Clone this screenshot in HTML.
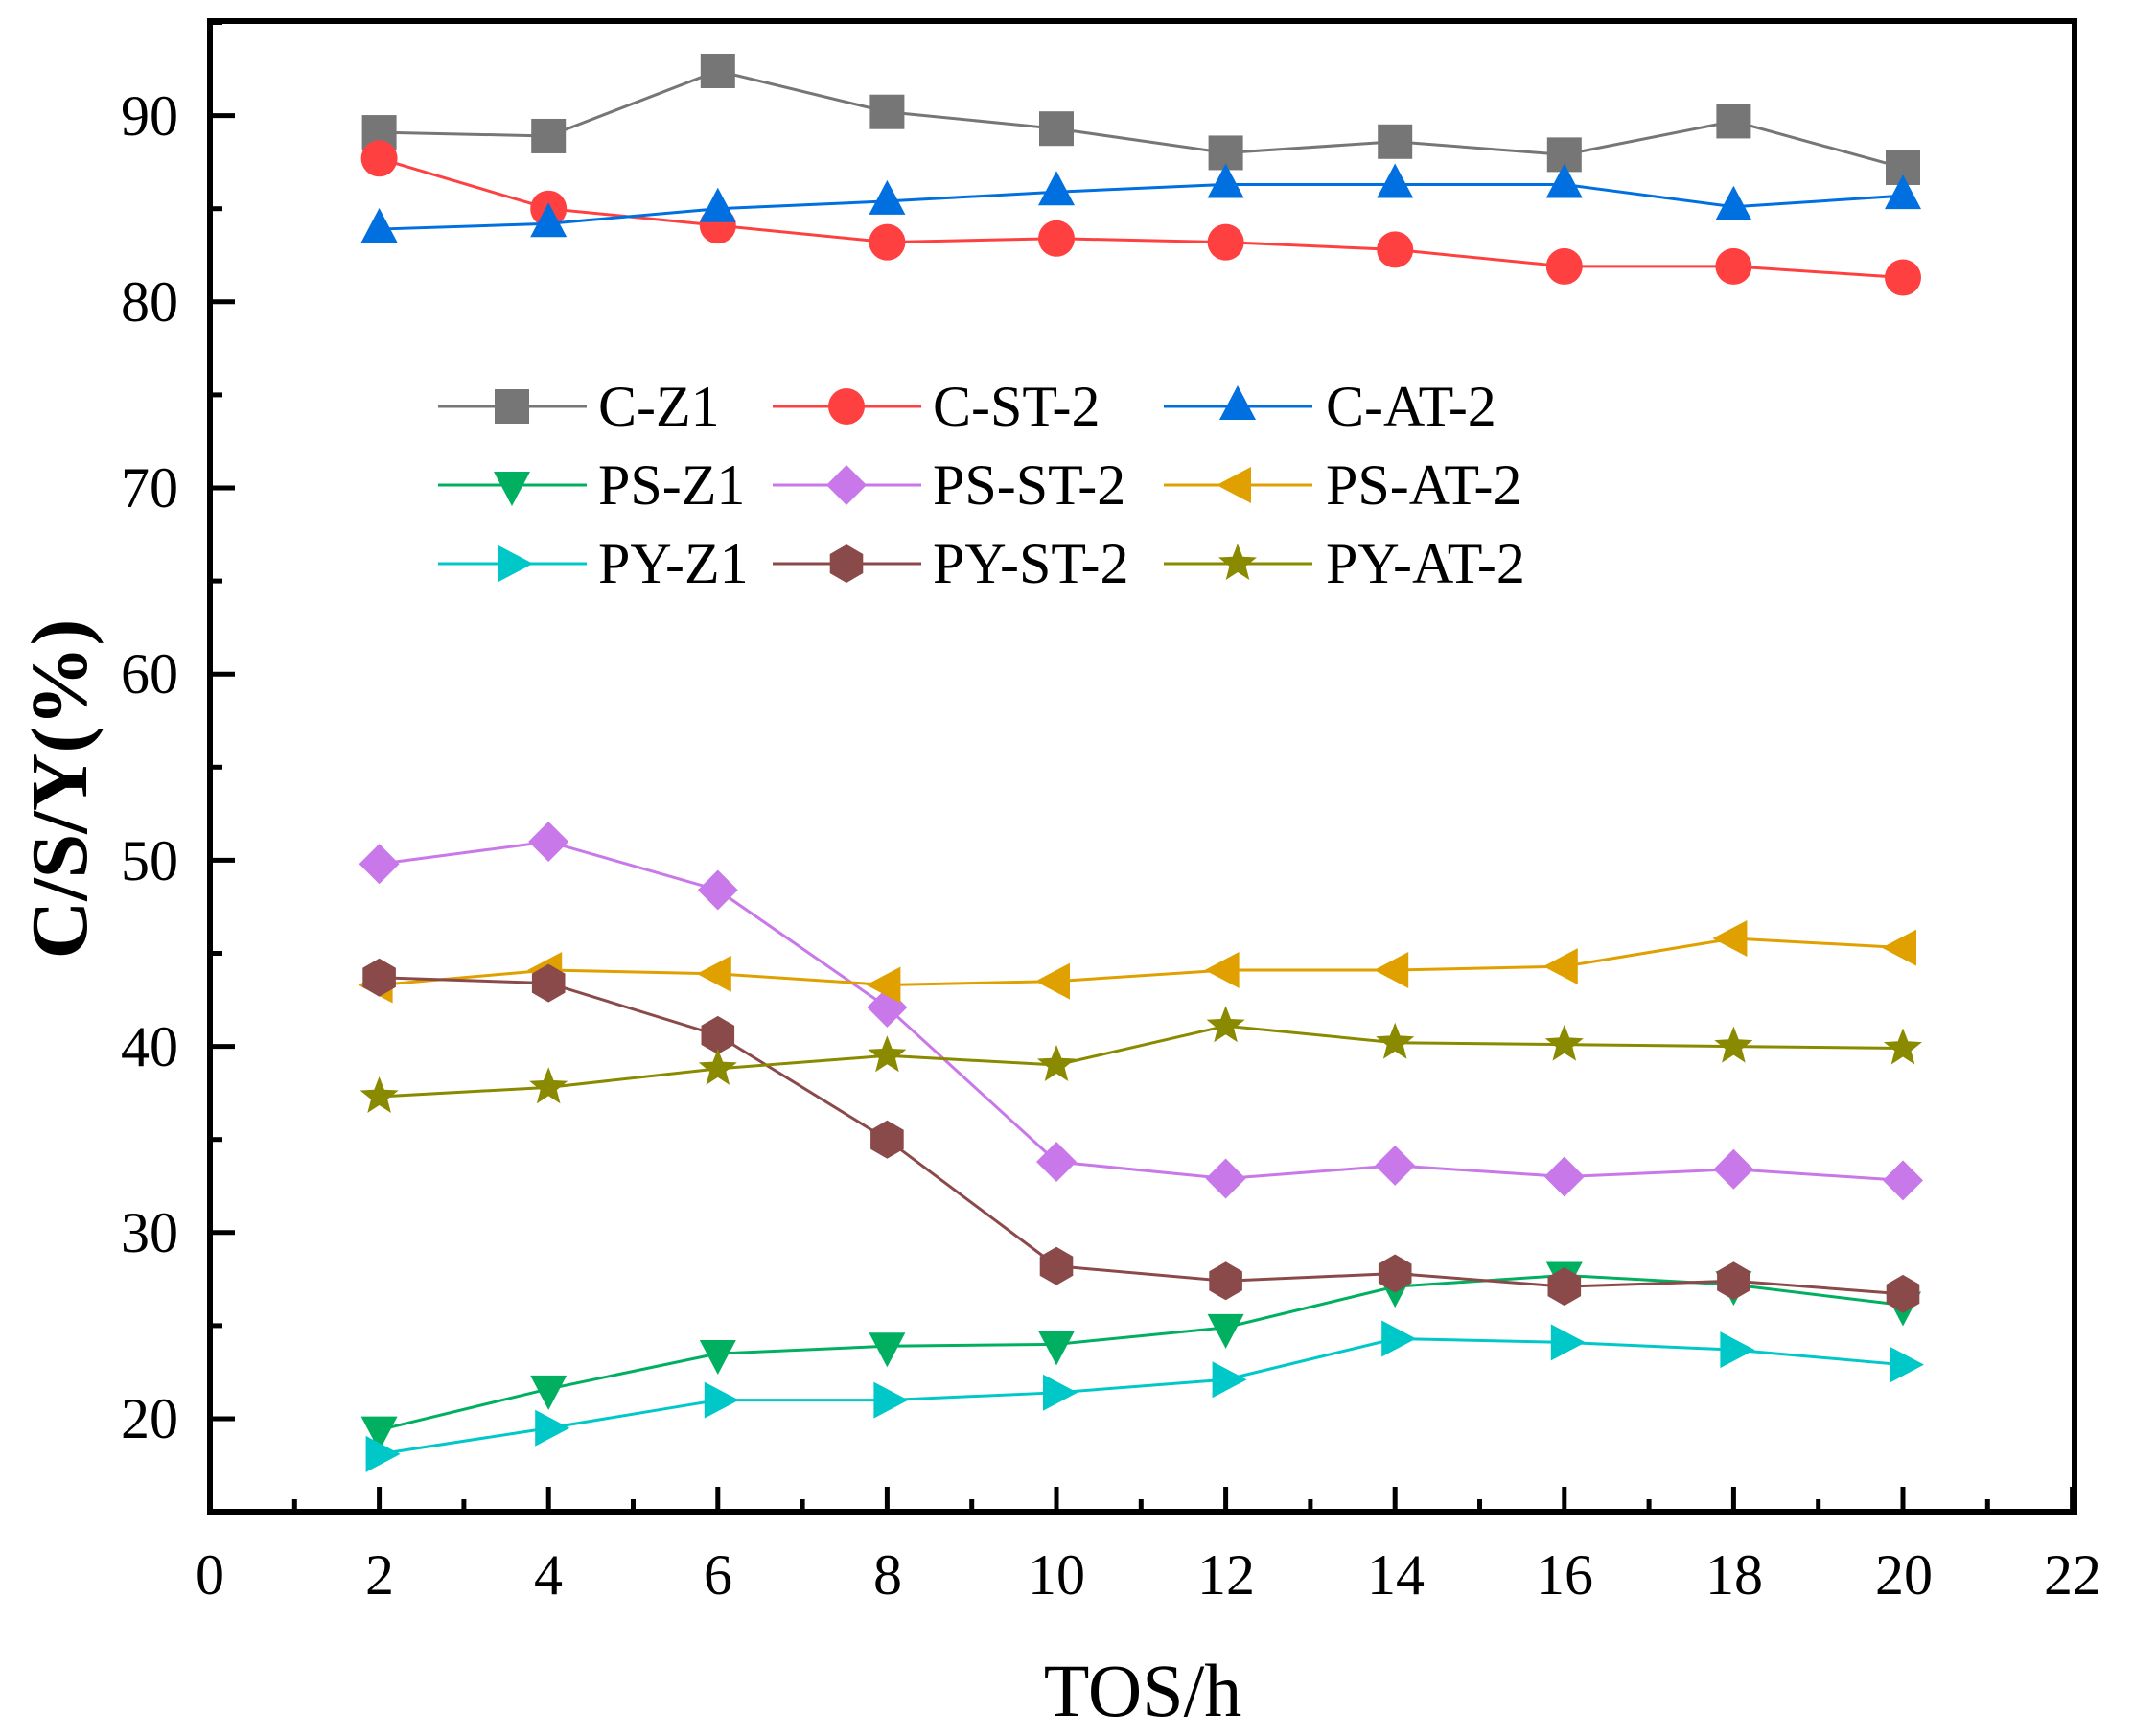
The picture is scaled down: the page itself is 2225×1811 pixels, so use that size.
<!DOCTYPE html>
<html><head><meta charset="utf-8"><style>
html,body{margin:0;padding:0;background:#fff;}
svg{display:block;}
text{font-family:"Liberation Serif",serif;fill:#000;}
</style></head><body>
<svg id="s" width="2225" height="1811" viewBox="0 0 2225 1811" xmlns="http://www.w3.org/2000/svg">
<rect width="2225" height="1811" fill="#fff"/>
<g id="plot"></g>
<g id="axes"></g>
<g font-size="60" text-anchor="end">
<text x="186" y="1500">20</text>
<text x="186" y="1306">30</text>
<text x="186" y="1112">40</text>
<text x="186" y="918">50</text>
<text x="186" y="723">60</text>
<text x="186" y="529">70</text>
<text x="186" y="335">80</text>
<text x="186" y="141">90</text>
</g>
<g font-size="60" text-anchor="middle">
<text x="219" y="1663">0</text>
<text x="396" y="1663">2</text>
<text x="572" y="1663">4</text>
<text x="749" y="1663">6</text>
<text x="926" y="1663">8</text>
<text x="1102" y="1663">10</text>
<text x="1279" y="1663">12</text>
<text x="1456" y="1663">14</text>
<text x="1632" y="1663">16</text>
<text x="1809" y="1663">18</text>
<text x="1986" y="1663">20</text>
<text x="2162" y="1663">22</text>
</g>
<text x="1192" y="1790" font-size="78" text-anchor="middle">TOS/h</text>
<text transform="translate(90,823) rotate(-90)" font-size="84" font-weight="bold" text-anchor="middle">C/S/Y(%)</text>
<g id="leg"></g>
<g font-size="60">
<text x="624" y="444">C-Z1</text>
<text x="973" y="444">C-ST-2</text>
<text x="1383" y="444">C-AT-2</text>
<text x="624" y="526">PS-Z1</text>
<text x="973" y="526">PS-ST-2</text>
<text x="1383" y="526">PS-AT-2</text>
<text x="624" y="608">PY-Z1</text>
<text x="973" y="608">PY-ST-2</text>
<text x="1383" y="608">PY-AT-2</text>
</g>
</svg>
<script>
const NS="http://www.w3.org/2000/svg";
const X=v=>219+v*88.3, Y=v=>1480-(v-20)*19.42;
function el(p,t,a){const e=document.createElementNS(NS,t);for(const k in a)e.setAttribute(k,a[k]);p.appendChild(e);return e;}
function poly(n,r,rot,cx,cy){let p=[];for(let i=0;i<n;i++){const a=rot+i*2*Math.PI/n;p.push((cx+r*Math.cos(a)).toFixed(1)+","+(cy+r*Math.sin(a)).toFixed(1));}return p.join(" ");}
function marker(g,shape,cx,cy,c){
 const s=18;
 switch(shape){
 case"sq":el(g,"rect",{x:cx-s,y:cy-s,width:2*s,height:2*s,fill:c});break;
 case"ci":el(g,"circle",{cx,cy,r:19,fill:c});break;
 case"up":el(g,"polygon",{points:`${cx},${cy-22} ${cx+19},${cy+14} ${cx-19},${cy+14}`,fill:c});break;
 case"dn":el(g,"polygon",{points:`${cx},${cy+22} ${cx+19},${cy-14} ${cx-19},${cy-14}`,fill:c});break;
 case"lf":el(g,"polygon",{points:`${cx-22},${cy} ${cx+14},${cy-19} ${cx+14},${cy+19}`,fill:c});break;
 case"rt":el(g,"polygon",{points:`${cx+22},${cy} ${cx-14},${cy-19} ${cx-14},${cy+19}`,fill:c});break;
 case"di":el(g,"polygon",{points:`${cx},${cy-21} ${cx+21},${cy} ${cx},${cy+21} ${cx-21},${cy}`,fill:c});break;
 case"hx":el(g,"polygon",{points:poly(6,20,Math.PI/6,cx,cy),fill:c});break;
 case"st":{let p=[];for(let i=0;i<10;i++){const r=i%2?9:21,a=-Math.PI/2+i*Math.PI/5;p.push((cx+r*Math.cos(a)).toFixed(1)+","+(cy+r*Math.sin(a)).toFixed(1));}el(g,"polygon",{points:p.join(" "),fill:c});}
 }
}
const S=[
["#767676","sq",[89.1,88.9,92.4,90.2,89.3,88.0,88.6,87.9,89.7,87.2]],
["#ff4040","ci",[87.7,85.0,84.1,83.2,83.4,83.2,82.8,81.9,81.9,81.3]],
["#0070e0","up",[83.9,84.2,85.0,85.4,85.9,86.3,86.3,86.3,85.1,85.7]],
["#00b060","dn",[19.4,21.6,23.5,23.9,24.0,24.9,27.1,27.7,27.2,26.1]],
["#c878e8","di",[49.8,51.0,48.4,42.1,33.8,32.9,33.6,33.0,33.4,32.8]],
["#e0a000","lf",[43.3,44.1,43.9,43.3,43.5,44.1,44.1,44.3,45.8,45.3]],
["#00c8c8","rt",[18.1,19.5,21.0,21.0,21.4,22.1,24.3,24.1,23.7,22.9]],
["#8b4a4a","hx",[43.7,43.4,40.6,35.0,28.2,27.4,27.8,27.1,27.4,26.7]],
["#8a8a00","st",[37.3,37.8,38.8,39.5,39.0,41.1,40.2,40.1,40.0,39.9]]];
const P=document.getElementById("plot"),L=document.getElementById("leg"),A=document.getElementById("axes");
S.forEach(([c,sh,d],k)=>{
 el(P,"polyline",{points:d.map((v,i)=>X(2+2*i)+","+Y(v)).join(" "),fill:"none",stroke:c,"stroke-width":3});
 d.forEach((v,i)=>marker(P,sh,X(2+2*i),Y(v),c));
 const col=k%3,row=Math.floor(k/3);
 const x0=[457,806,1214][col],y0=[424,506,588][row];
 el(L,"line",{x1:x0,y1:y0,x2:x0+155,y2:y0,stroke:c,"stroke-width":3});
 marker(L,sh,x0+77,y0,c);
});
el(A,"rect",{x:219,y:22,width:1945,height:1555,fill:"none",stroke:"#000","stroke-width":6});
for(let v=0;v<=22;v++){const x=X(v);const big=v%2==0;el(A,"line",{x1:x,y1:1577,x2:x,y2:1577-(big?26:13),stroke:"#000","stroke-width":5});}
for(let v=15;v<=95;v+=5){const y=Y(v);const big=v%10==0;el(A,"line",{x1:219,y1:y,x2:219+(big?26:13),y2:y,stroke:"#000","stroke-width":5});}
</script>
</body></html>
